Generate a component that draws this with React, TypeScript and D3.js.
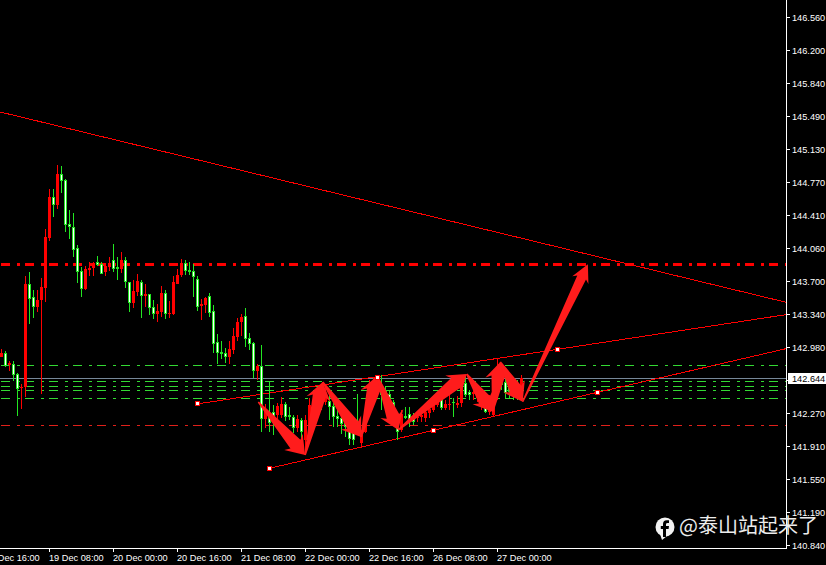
import React from "react";
import * as d3 from "d3";

// Candle values, one entry per hourly bar (1 = close above open)
const candleUp = [
  1,0,1,0,0,1,1,0,0,1, 1,1,1,0,1,0,0,0,0,0,
  0,1,1,1,0,0,1,1,0,0, 1,0,0,1,1,0,1,0,0,1,
  1,0,1,1,1,1,0,0,0,0, 1,1,0,0,0,0,0,1,1,1,
  1,0,0,0,1,0,1,0,0,1, 1,0,0,0,1,0,1,1,1,1,
  0,1,0,0,0,0,0,0,0,0, 1,1,1,1,1,0,0,0,0,0,
  1,0,0,0,1,1,1,1,1,1, 0,1,1,0,1,1,0,0,1,1,
  1,0,1,1,1,0,0,0,0,0, 1,
];
const bodyHigh = [
  142.916,142.916,142.808,142.797,142.689,142.552,143.667,143.664,143.523,143.494,
  143.635,144.173,144.610,144.606,144.859,144.859,144.794,144.314,144.281,144.054,
  143.805,143.826,143.841,143.898,143.902,143.884,143.866,143.891,143.924,143.852,
  143.927,143.924,143.685,143.592,143.700,143.685,143.559,143.555,143.415,143.371,
  143.566,143.566,143.353,143.689,143.761,143.895,143.891,143.815,143.805,143.718,
  143.451,143.516,143.534,143.371,143.039,142.931,142.916,142.963,143.104,143.256,
  143.310,143.321,143.079,143.025,142.783,142.775,142.303,142.248,142.281,142.346,
  142.368,142.368,142.248,142.227,142.205,142.194,142.194,142.357,142.357,142.411,
  142.465,142.487,142.400,142.346,142.238,142.216,142.162,142.086,142.053,142.108,
  142.032,142.270,142.519,142.595,142.573,142.573,142.508,142.476,142.389,142.108,
  142.259,142.238,142.259,142.216,142.227,142.248,142.281,142.313,142.368,142.433,
  142.433,142.368,142.368,142.389,142.378,142.595,142.595,142.498,142.498,142.465,
  142.433,142.324,142.411,142.573,142.736,142.714,142.606,142.573,142.541,142.584,
  142.649,
];
const bodyLow = [
  142.877,142.779,142.790,142.682,142.530,142.544,142.548,143.509,143.422,143.418,
  143.494,143.628,144.169,144.523,144.523,144.787,144.310,144.285,144.039,143.801,
  143.617,143.613,143.819,143.844,143.873,143.779,143.797,143.848,143.833,143.833,
  143.826,143.693,143.465,143.462,143.581,143.541,143.537,143.411,143.346,143.346,
  143.364,143.346,143.346,143.346,143.667,143.765,143.812,143.797,143.743,143.422,
  143.433,143.440,143.357,143.021,142.924,142.909,142.877,142.877,142.952,143.093,
  143.256,143.075,143.021,142.729,142.725,142.208,142.205,142.162,142.216,142.248,
  142.248,142.227,142.227,142.108,142.108,142.064,141.978,142.108,142.194,142.270,
  142.378,142.389,142.335,142.227,142.205,142.151,142.118,141.988,141.978,142.043,
  141.945,142.064,142.303,142.465,142.498,142.465,142.465,142.433,142.303,142.064,
  142.086,142.216,142.205,142.173,142.216,142.227,142.216,142.270,142.303,142.357,
  142.324,142.324,142.357,142.378,142.357,142.378,142.465,142.465,142.476,142.433,
  142.368,142.281,142.281,142.248,142.465,142.573,142.487,142.498,142.465,142.541,
  142.411,
];
const wickHigh = [
  142.960,142.938,142.837,142.833,142.700,142.584,143.754,143.797,143.602,143.602,
  143.732,144.260,144.693,144.693,144.957,144.946,144.801,144.469,144.433,144.086,
  143.855,143.862,143.906,143.906,143.971,143.909,143.891,143.963,144.101,143.956,
  144.014,143.956,143.693,143.711,143.776,143.711,143.664,143.563,143.494,143.451,
  143.649,143.602,143.483,143.754,143.826,143.938,143.927,143.906,143.884,143.754,
  143.505,143.523,143.566,143.440,143.126,143.050,142.974,143.050,143.187,143.295,
  143.342,143.404,143.133,143.035,142.797,143.007,142.368,142.606,142.357,142.378,
  142.443,142.389,142.335,142.248,142.248,142.216,142.248,142.433,142.465,142.519,
  142.573,142.573,142.465,142.389,142.335,142.248,142.194,142.173,142.108,142.476,
  142.086,142.303,142.628,142.649,142.660,142.682,142.552,142.519,142.411,142.216,
  142.303,142.335,142.335,142.270,142.259,142.281,142.303,142.335,142.411,142.465,
  142.487,142.411,142.465,142.433,142.454,142.649,142.660,142.519,142.541,142.508,
  142.498,142.357,142.465,142.682,142.855,142.779,142.649,142.628,142.649,142.628,
  142.682,
];
const wickLow = [
  142.877,142.765,142.729,142.620,142.237,142.313,142.447,143.238,143.303,143.364,
  142.476,143.472,144.133,144.397,144.480,144.657,144.234,144.155,143.963,143.678,
  143.527,143.602,143.754,143.754,143.862,143.776,143.754,143.812,143.801,143.711,
  143.783,143.624,143.364,143.407,143.537,143.303,143.422,143.332,143.285,143.256,
  143.313,143.285,143.299,143.332,143.667,143.747,143.761,143.765,143.527,143.375,
  143.277,143.350,143.313,142.916,142.801,142.851,142.808,142.804,142.909,143.054,
  143.104,142.981,142.952,142.645,142.627,142.064,142.108,142.064,142.032,142.194,
  142.216,142.183,142.194,142.053,142.064,141.945,141.815,142.032,142.140,142.194,
  142.303,142.357,142.194,142.118,142.118,142.043,142.010,141.923,141.923,142.032,
  141.891,142.053,142.248,142.411,142.443,142.303,142.411,142.378,142.140,141.978,
  142.064,142.205,142.118,142.140,142.173,142.173,142.173,142.216,142.281,142.335,
  142.303,142.303,142.303,142.227,142.324,142.335,142.443,142.411,142.411,142.389,
  142.303,142.270,142.248,142.227,142.411,142.519,142.433,142.433,142.411,142.411,
  142.400,
];

// Axis labels
const priceLabels = [
  "146.560","146.200","145.840","145.490","145.130","144.770","144.410","144.060","143.700",
  "143.340","142.980","142.620","142.270","141.910","141.550","141.190","140.840",
];
const currentPrice = 142.644;
const timeLabels = [
  "18 Dec 16:00","19 Dec 08:00","20 Dec 00:00","20 Dec 16:00","21 Dec 08:00",
  "22 Dec 00:00","22 Dec 16:00","26 Dec 08:00","27 Dec 00:00",
];
const timeLabelBars = [-4, 12, 28, 44, 60, 76, 92, 108, 124];

// Horizontal levels
const thickLevel = 143.884;
const greenLevels = [142.79, 142.617, 142.563, 142.519, 142.433];
const redLevel = 142.14;

// Trend lines: bar position and price at their anchors
const fallingLineBars = [-0.33, 196.17];
const fallingLinePrices = [145.531, 143.469];
const channelBars = [48.9, 94, 139];
const channelPrices = [142.368, 142.657, 142.96];
const supportBars = [67, 108, 149];
const supportPrices = [141.671, 142.083, 142.494];

// Hand-drawn arrow path
const arrowBars = [64.2, 75.9, 80.3, 89.9, 93.9, 99.2, 116.3, 122.8, 124.7, 130.3, 146.6];
const arrowPrices = [142.389, 141.815, 142.606, 142.01, 142.671, 142.086, 142.693, 142.284, 142.823, 142.392, 143.881];

const WIDTH = 826;
const HEIGHT = 565;
const PLOT_RIGHT = 786;
const PLOT_BOTTOM = 548;
const RED = "#ff0000";
const LIME = "#22e622";
const DASH = "9 7 3 5";
const FONT = "'Liberation Sans', Arial, sans-serif";

const xScale = d3.scaleLinear().domain([0, 1]).range([1.5, 5.5]);
const yScale = d3.scaleLinear().domain([146.56, 140.84]).range([17, 545]);
const tickScale = d3.scalePoint<string>().domain(priceLabels).range([17, 545]);

function arrowPolygon(x0: number, y0: number, x1: number, y1: number, k: number): string {
  const len = Math.hypot(x1 - x0, y1 - y0);
  const ux = (x1 - x0) / len;
  const uy = (y1 - y0) / len;
  const nx = -uy;
  const ny = ux;
  const head = 16 * (k > 1 ? 1.1 : 1);
  const neck = Math.max(len - head + 3, 1);
  const barb = Math.max(len - head, 0);
  const at = (along: number, side: number) =>
    [x0 + ux * along + nx * side, y0 + uy * along + ny * side] as [number, number];
  const pts = [at(0, -0.8), at(neck, -4.6 * k), at(barb, -8.5 * k), at(len, 0), at(barb, 8.5 * k), at(neck, 4.6 * k), at(0, 0.8)];
  return pts.map((p) => p.join(",")).join(" ");
}

function extendToRight(bars: number[], prices: number[]) {
  const x0 = xScale(bars[0]);
  const y0 = yScale(prices[0]);
  const x1 = xScale(bars[bars.length - 1]);
  const y1 = yScale(prices[prices.length - 1]);
  const slope = (y1 - y0) / (x1 - x0);
  return { x0, y0, x1: PLOT_RIGHT, y1: y0 + slope * (PLOT_RIGHT - x0) };
}

function Marker({ bar, price }: { bar: number; price: number }) {
  const x = Math.floor(xScale(bar));
  const y = Math.floor(yScale(price));
  return <rect x={x - 1.5} y={y - 1.5} width={4} height={4} fill="#ffffff" stroke={RED} strokeWidth={1} shapeRendering="crispEdges" />;
}

export default function App() {
  const channel = extendToRight(channelBars, channelPrices);
  const support = extendToRight(supportBars, supportPrices);
  const falling = extendToRight(fallingLineBars, fallingLinePrices);
  const levelY = (p: number) => Math.round(yScale(p)) + 0.5;
  const currentY = levelY(currentPrice);

  return (
    <svg
      width={WIDTH}
      height={HEIGHT}
      viewBox={`0 0 ${WIDTH} ${HEIGHT}`}
      style={{ position: "fixed", left: 0, top: 0, display: "block", background: "#000" }}
    >
      <rect width={WIDTH} height={HEIGHT} fill="#000" />
      <defs>
        <clipPath id="plot">
          <rect x={0} y={0} width={PLOT_RIGHT} height={PLOT_BOTTOM} />
        </clipPath>
      </defs>

      <g clipPath="url(#plot)">
        {/* levels */}
        <line x1={1} x2={PLOT_RIGHT} y1={levelY(thickLevel)} y2={levelY(thickLevel)} stroke={RED} strokeWidth={3} strokeDasharray={DASH} shapeRendering="crispEdges" />
        {greenLevels.map((p) => (
          <line key={p} x1={1} x2={PLOT_RIGHT} y1={levelY(p)} y2={levelY(p)} stroke="#33d933" strokeWidth={1} strokeDasharray={DASH} shapeRendering="crispEdges" />
        ))}
        <line x1={1} x2={PLOT_RIGHT} y1={levelY(redLevel)} y2={levelY(redLevel)} stroke="#e0201a" strokeWidth={1} strokeDasharray={DASH} shapeRendering="crispEdges" />
        <line x1={0} x2={PLOT_RIGHT} y1={currentY} y2={currentY} stroke="#778899" strokeWidth={1} shapeRendering="crispEdges" />

        {/* trend lines */}
        {[falling, channel, support].map((l, i) => (
          <line key={i} x1={l.x0} y1={l.y0} x2={l.x1} y2={l.y1} stroke={RED} strokeWidth={1} shapeRendering="crispEdges" />
        ))}

        {/* candles */}
        <g shapeRendering="crispEdges">
          {candleUp.map((up, i) => {
            const cx = Math.floor(xScale(i));
            const wy = Math.round(yScale(wickHigh[i]));
            const wb = Math.round(yScale(wickLow[i]));
            const by = Math.round(yScale(bodyHigh[i]));
            const bb = Math.max(Math.round(yScale(bodyLow[i])), by + 1);
            return up ? (
              <g key={i}>
                <rect x={cx} y={wy} width={1} height={Math.max(wb - wy, 1)} fill={RED} />
                <rect x={cx - 1} y={by} width={3} height={bb - by} fill={RED} />
              </g>
            ) : (
              <g key={i}>
                <rect x={cx} y={wy} width={1} height={Math.max(wb - wy, 1)} fill={LIME} />
                <rect x={cx - 1} y={by} width={3} height={bb - by} fill={LIME} />
                {bb - by > 2 && <rect x={cx} y={by + 1} width={1} height={bb - by - 2} fill="#ffffff" />}
              </g>
            );
          })}
        </g>

        {/* arrows: the last, longest one keeps a slimmer shaft */}
        {arrowBars.slice(1).map((b, i) => (
          <polygon
            key={i}
            points={arrowPolygon(
              xScale(arrowBars[i]),
              yScale(arrowPrices[i]),
              xScale(b),
              yScale(arrowPrices[i + 1]),
              i === arrowBars.length - 2 ? 1.05 : 1.45,
            )}
            fill="#ff1c1c"
          />
        ))}

        {/* anchors */}
        {channelBars.map((b, i) => <Marker key={`c${i}`} bar={b} price={channelPrices[i]} />)}
        {supportBars.map((b, i) => <Marker key={`s${i}`} bar={b} price={supportPrices[i]} />)}
      </g>

      {/* axes */}
      <g shapeRendering="crispEdges" stroke="#ffffff" strokeWidth={1}>
        <line x1={PLOT_RIGHT + 0.5} x2={PLOT_RIGHT + 0.5} y1={0} y2={PLOT_BOTTOM + 1} />
        <line x1={0} x2={PLOT_RIGHT + 1} y1={PLOT_BOTTOM + 0.5} y2={PLOT_BOTTOM + 0.5} />
        {priceLabels.map((l) => {
          const y = Math.round(tickScale(l) as number) + 0.5;
          return <line key={l} x1={PLOT_RIGHT + 1} x2={PLOT_RIGHT + 4} y1={y} y2={y} />;
        })}
        {timeLabelBars.map((b) => {
          const x = Math.floor(xScale(b)) + 0.5;
          return <line key={b} x1={x} x2={x} y1={PLOT_BOTTOM + 1} y2={PLOT_BOTTOM + 4} />;
        })}
      </g>
      <g fontFamily={FONT} fontSize={9.2} fill="#ffffff">
        {priceLabels.map((l) => (
          <text key={l} x={792} y={(tickScale(l) as number) + 3.5}>{l}</text>
        ))}
        {timeLabels.map((l, i) => (
          <text key={l} x={Math.floor(xScale(timeLabelBars[i]))} y={561}>{l}</text>
        ))}
      </g>

      {/* current price tag */}
      <rect x={788} y={373} width={38} height={11} fill="#ffffff" />
      <text x={792} y={382} fontFamily={FONT} fontSize={9.2} fill="#000000">{currentPrice.toFixed(3)}</text>

      {/* watermark */}
      <g>
        <circle cx={665} cy={527} r={9.5} fill="#f2f2f2" />
        <path d="M660 534 L662 540 L667 536 Z" fill="#f2f2f2" />
        <path d="M666 537 L666 529 L668.6 529 L669 526 L666 526 L666 524.3 Q666 523 667.5 523 L669 523 L669 520.2 L666.6 520.2 Q663 520.2 663 524 L663 526 L660.8 526 L660.8 529 L663 529 L663 537 Z" fill="#000" />
        <text x={679} y={533} fontFamily="'Noto Sans CJK SC', sans-serif" fontSize={20} fill="#ececec">@泰山站起来了</text>
      </g>
    </svg>
  );
}
